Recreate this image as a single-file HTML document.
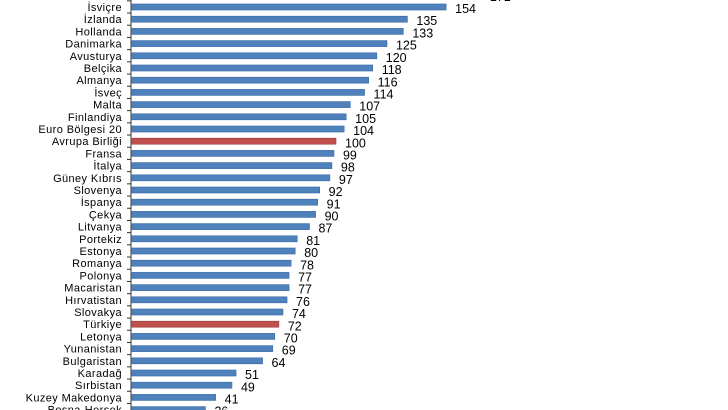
<!DOCTYPE html>
<html><head><meta charset="utf-8"><style>
html,body{margin:0;padding:0;background:#fff;width:728px;height:410px;overflow:hidden}
text{font-family:"Liberation Sans",Arial,sans-serif;font-size:11px;fill:#000}
.n{text-anchor:end;letter-spacing:0.4px}
.v{font-size:12.5px}
.b{fill:#4f81bd;stroke:#3a6aa3;stroke-width:0.6}
.r{fill:#c0504d;stroke:#a03c39;stroke-width:0.6}
</style></head><body>
<svg width="728" height="410" viewBox="0 0 728 410" xmlns="http://www.w3.org/2000/svg">
<g transform="translate(0,7) scale(1,1.0058) translate(0,-7)">
<g transform="translate(0,-5.13)"><rect class="b" x="132" y="-3" width="348.84" height="6"/><text class="v" x="489.84" y="6">171</text><line x1="127" x2="131" y1="6" y2="6" stroke="#333"/></g>
<g transform="translate(0,7)"><rect class="b" x="132" y="-3" width="314.16" height="6"/><text class="n" x="122" y="4">İsviçre</text><text class="v" x="455.16" y="6">154</text><line x1="127" x2="131" y1="6" y2="6" stroke="#333"/></g>
<g transform="translate(0,19.13)"><rect class="b" x="132" y="-3" width="275.4" height="6"/><text class="n" x="122" y="4">İzlanda</text><text class="v" x="416.4" y="6">135</text><line x1="127" x2="131" y1="6" y2="6" stroke="#333"/></g>
<g transform="translate(0,31.26)"><rect class="b" x="132" y="-3" width="271.32" height="6"/><text class="n" x="122" y="4">Hollanda</text><text class="v" x="412.32" y="6">133</text><line x1="127" x2="131" y1="6" y2="6" stroke="#333"/></g>
<g transform="translate(0,43.39)"><rect class="b" x="132" y="-3" width="255" height="6"/><text class="n" x="122" y="4">Danimarka</text><text class="v" x="396" y="6">125</text><line x1="127" x2="131" y1="6" y2="6" stroke="#333"/></g>
<g transform="translate(0,55.52)"><rect class="b" x="132" y="-3" width="244.8" height="6"/><text class="n" x="122" y="4">Avusturya</text><text class="v" x="385.8" y="6">120</text><line x1="127" x2="131" y1="6" y2="6" stroke="#333"/></g>
<g transform="translate(0,67.65)"><rect class="b" x="132" y="-3" width="240.72" height="6"/><text class="n" x="122" y="4">Belçika</text><text class="v" x="381.72" y="6">118</text><line x1="127" x2="131" y1="6" y2="6" stroke="#333"/></g>
<g transform="translate(0,79.78)"><rect class="b" x="132" y="-3" width="236.64" height="6"/><text class="n" x="122" y="4">Almanya</text><text class="v" x="377.64" y="6">116</text><line x1="127" x2="131" y1="6" y2="6" stroke="#333"/></g>
<g transform="translate(0,91.91)"><rect class="b" x="132" y="-3" width="232.56" height="6"/><text class="n" x="122" y="4">İsveç</text><text class="v" x="373.56" y="6">114</text><line x1="127" x2="131" y1="6" y2="6" stroke="#333"/></g>
<g transform="translate(0,104.04)"><rect class="b" x="132" y="-3" width="218.28" height="6"/><text class="n" x="122" y="4">Malta</text><text class="v" x="359.28" y="6">107</text><line x1="127" x2="131" y1="6" y2="6" stroke="#333"/></g>
<g transform="translate(0,116.17)"><rect class="b" x="132" y="-3" width="214.2" height="6"/><text class="n" x="122" y="4">Finlandiya</text><text class="v" x="355.2" y="6">105</text><line x1="127" x2="131" y1="6" y2="6" stroke="#333"/></g>
<g transform="translate(0,128.3)"><rect class="b" x="132" y="-3" width="212.16" height="6"/><text class="n" x="122" y="4">Euro Bölgesi 20</text><text class="v" x="353.16" y="6">104</text><line x1="127" x2="131" y1="6" y2="6" stroke="#333"/></g>
<g transform="translate(0,140.43)"><rect class="r" x="132" y="-3" width="204" height="6"/><text class="n" x="122" y="4">Avrupa Birliği</text><text class="v" x="345" y="6">100</text><line x1="127" x2="131" y1="6" y2="6" stroke="#333"/></g>
<g transform="translate(0,152.56)"><rect class="b" x="132" y="-3" width="201.96" height="6"/><text class="n" x="122" y="4">Fransa</text><text class="v" x="342.96" y="6">99</text><line x1="127" x2="131" y1="6" y2="6" stroke="#333"/></g>
<g transform="translate(0,164.69)"><rect class="b" x="132" y="-3" width="199.92" height="6"/><text class="n" x="122" y="4">İtalya</text><text class="v" x="340.92" y="6">98</text><line x1="127" x2="131" y1="6" y2="6" stroke="#333"/></g>
<g transform="translate(0,176.82)"><rect class="b" x="132" y="-3" width="197.88" height="6"/><text class="n" x="122" y="4">Güney Kıbrıs</text><text class="v" x="338.88" y="6">97</text><line x1="127" x2="131" y1="6" y2="6" stroke="#333"/></g>
<g transform="translate(0,188.95)"><rect class="b" x="132" y="-3" width="187.68" height="6"/><text class="n" x="122" y="4">Slovenya</text><text class="v" x="328.68" y="6">92</text><line x1="127" x2="131" y1="6" y2="6" stroke="#333"/></g>
<g transform="translate(0,201.08)"><rect class="b" x="132" y="-3" width="185.64" height="6"/><text class="n" x="122" y="4">İspanya</text><text class="v" x="326.64" y="6">91</text><line x1="127" x2="131" y1="6" y2="6" stroke="#333"/></g>
<g transform="translate(0,213.21)"><rect class="b" x="132" y="-3" width="183.6" height="6"/><text class="n" x="122" y="4">Çekya</text><text class="v" x="324.6" y="6">90</text><line x1="127" x2="131" y1="6" y2="6" stroke="#333"/></g>
<g transform="translate(0,225.34)"><rect class="b" x="132" y="-3" width="177.48" height="6"/><text class="n" x="122" y="4">Litvanya</text><text class="v" x="318.48" y="6">87</text><line x1="127" x2="131" y1="6" y2="6" stroke="#333"/></g>
<g transform="translate(0,237.47)"><rect class="b" x="132" y="-3" width="165.24" height="6"/><text class="n" x="122" y="4">Portekiz</text><text class="v" x="306.24" y="6">81</text><line x1="127" x2="131" y1="6" y2="6" stroke="#333"/></g>
<g transform="translate(0,249.6)"><rect class="b" x="132" y="-3" width="163.2" height="6"/><text class="n" x="122" y="4">Estonya</text><text class="v" x="304.2" y="6">80</text><line x1="127" x2="131" y1="6" y2="6" stroke="#333"/></g>
<g transform="translate(0,261.73)"><rect class="b" x="132" y="-3" width="159.12" height="6"/><text class="n" x="122" y="4">Romanya</text><text class="v" x="300.12" y="6">78</text><line x1="127" x2="131" y1="6" y2="6" stroke="#333"/></g>
<g transform="translate(0,273.86)"><rect class="b" x="132" y="-3" width="157.08" height="6"/><text class="n" x="122" y="4">Polonya</text><text class="v" x="298.08" y="6">77</text><line x1="127" x2="131" y1="6" y2="6" stroke="#333"/></g>
<g transform="translate(0,285.99)"><rect class="b" x="132" y="-3" width="157.08" height="6"/><text class="n" x="122" y="4">Macaristan</text><text class="v" x="298.08" y="6">77</text><line x1="127" x2="131" y1="6" y2="6" stroke="#333"/></g>
<g transform="translate(0,298.12)"><rect class="b" x="132" y="-3" width="155.04" height="6"/><text class="n" x="122" y="4">Hırvatistan</text><text class="v" x="296.04" y="6">76</text><line x1="127" x2="131" y1="6" y2="6" stroke="#333"/></g>
<g transform="translate(0,310.25)"><rect class="b" x="132" y="-3" width="150.96" height="6"/><text class="n" x="122" y="4">Slovakya</text><text class="v" x="291.96" y="6">74</text><line x1="127" x2="131" y1="6" y2="6" stroke="#333"/></g>
<g transform="translate(0,322.38)"><rect class="r" x="132" y="-3" width="146.88" height="6"/><text class="n" x="122" y="4">Türkiye</text><text class="v" x="287.88" y="6">72</text><line x1="127" x2="131" y1="6" y2="6" stroke="#333"/></g>
<g transform="translate(0,334.51)"><rect class="b" x="132" y="-3" width="142.8" height="6"/><text class="n" x="122" y="4">Letonya</text><text class="v" x="283.8" y="6">70</text><line x1="127" x2="131" y1="6" y2="6" stroke="#333"/></g>
<g transform="translate(0,346.64)"><rect class="b" x="132" y="-3" width="140.76" height="6"/><text class="n" x="122" y="4">Yunanistan</text><text class="v" x="281.76" y="6">69</text><line x1="127" x2="131" y1="6" y2="6" stroke="#333"/></g>
<g transform="translate(0,358.77)"><rect class="b" x="132" y="-3" width="130.56" height="6"/><text class="n" x="122" y="4">Bulgaristan</text><text class="v" x="271.56" y="6">64</text><line x1="127" x2="131" y1="6" y2="6" stroke="#333"/></g>
<g transform="translate(0,370.9)"><rect class="b" x="132" y="-3" width="104.04" height="6"/><text class="n" x="122" y="4">Karadağ</text><text class="v" x="245.04" y="6">51</text><line x1="127" x2="131" y1="6" y2="6" stroke="#333"/></g>
<g transform="translate(0,383.03)"><rect class="b" x="132" y="-3" width="99.96" height="6"/><text class="n" x="122" y="4">Sırbistan</text><text class="v" x="240.96" y="6">49</text><line x1="127" x2="131" y1="6" y2="6" stroke="#333"/></g>
<g transform="translate(0,395.16)"><rect class="b" x="132" y="-3" width="83.64" height="6"/><text class="n" x="122" y="4">Kuzey Makedonya</text><text class="v" x="224.64" y="6">41</text><line x1="127" x2="131" y1="6" y2="6" stroke="#333"/></g>
<g transform="translate(0,407.29)"><rect class="b" x="132" y="-3" width="73.44" height="6"/><text class="n" x="122" y="4">Bosna-Hersek</text><text class="v" x="214.44" y="6">36</text></g>
</g>
<line x1="131" x2="131" y1="0" y2="410" stroke="#333" stroke-width="1"/>
</svg>
</body></html>
